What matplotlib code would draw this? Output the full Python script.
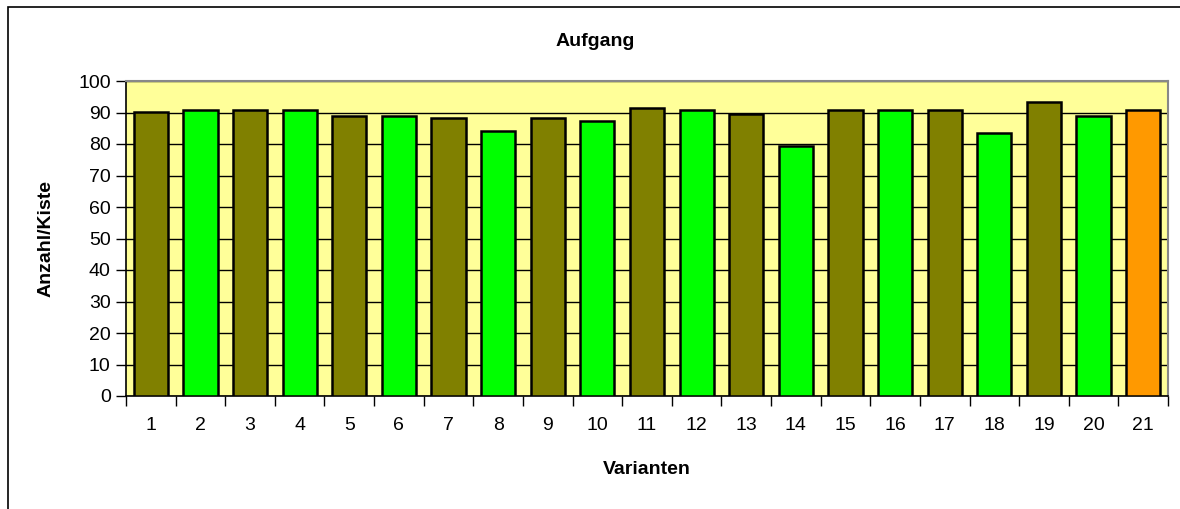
import matplotlib.pyplot as plt
from matplotlib.patches import Rectangle

plt.rcParams['font.family'] = ['Liberation Sans', 'DejaVu Sans']

# data
varianten = [str(i) for i in range(1, 22)]
anzahl = [90.2, 90.7, 90.7, 90.7, 88.8, 88.8, 88.1, 84.1, 88.1, 87.4, 91.4,
          90.8, 89.4, 79.4, 90.8, 90.8, 90.8, 83.6, 93.4, 88.8, 90.8]
farben = ['#808000', '#00FF00'] * 10 + ['#FF9900']

fig = plt.figure(figsize=(11.8, 5.09), dpi=100)
W, H = 1180, 509

# outer chart frame (partly outside the picture)
fig.patches.append(Rectangle((8 / W, -0.1), 1.2, 1 - 7 / H + 0.1,
                             transform=fig.transFigure, fill=False,
                             edgecolor='black', linewidth=1.2))

ax = fig.add_axes([126 / W, 1 - 396 / H, (1168 - 126) / W, (396 - 81) / H])
ax.set_facecolor('#FFFF99')

x = list(range(len(varianten)))
ax.bar(x, anzahl, width=0.69, color=farben, edgecolor='black',
       linewidth=1.8, zorder=3)

ax.set_xlim(-0.5, len(varianten) - 0.5)
ax.set_ylim(0, 100)
ax.set_yticks(range(0, 101, 10))
ax.yaxis.grid(True, color='black', linewidth=1.0, zorder=0)

ax.set_xticks([i - 0.5 for i in range(len(varianten) + 1)])
ax.set_xticklabels([])
ax.set_xticks(x, minor=True)
ax.set_xticklabels(varianten, minor=True)
ax.tick_params(axis='x', which='minor', length=0, pad=15, labelsize=14)
ax.tick_params(axis='x', which='major', length=7, width=1, direction='out')
ax.tick_params(axis='y', length=7, width=1, direction='out', labelsize=14, pad=4)

for s in ['top', 'right']:
    ax.spines[s].set_color('#888888')
    ax.spines[s].set_linewidth(1.5)
for s in ['left', 'bottom']:
    ax.spines[s].set_color('black')
    ax.spines[s].set_linewidth(1.2)

fig.text(595 / W, 1 - 42 / H, 'Aufgang', ha='center', va='center',
         fontsize=14, fontweight='bold')
fig.text(647 / W, 1 - 469 / H, 'Varianten', ha='center', va='center',
         fontsize=14, fontweight='bold')
fig.text(46 / W, 1 - 238 / H, 'Anzahl/Kiste', ha='center', va='center',
         rotation=90, fontsize=14, fontweight='bold')

fig.savefig('out.png', dpi=100)
